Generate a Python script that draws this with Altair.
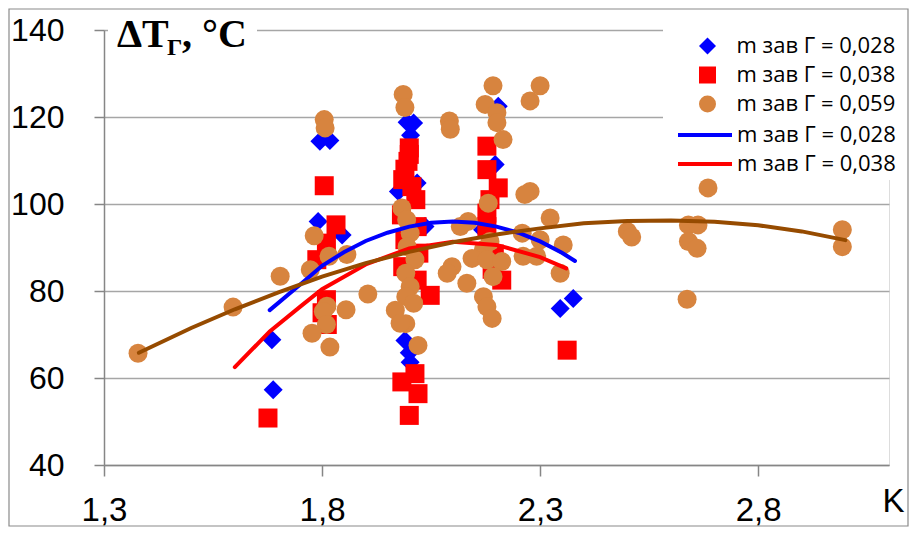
import altair as alt
import pandas as pd

L028 = "m зав Г = 0,028"
L038 = "m зав Г = 0,038"
L059 = "m зав Г = 0,059"

# scatter series (K, dT)
blue_x = [1.795, 1.818, 1.791, 1.846, 1.685, 1.688,
          1.995, 2.010, 2.003, 2.018, 1.975, 1.997, 2.036, 1.990, 2.000, 2.002,
          2.204, 2.197, 2.168, 2.346, 2.376]
blue_y = [114.4, 114.6, 96.0, 92.9, 68.8, 57.3,
          118.8, 118.6, 115.8, 104.8, 102.9, 104.8, 94.8, 68.6, 65.8, 63.6,
          122.5, 109.1, 94.1, 76.0, 78.3]

red_x = [1.805, 1.832, 1.810, 1.788, 1.810, 1.800, 1.812, 1.676,
         2.000, 2.000, 1.997, 1.990, 2.006, 1.985, 2.015, 1.982, 2.018, 1.990,
         2.022, 1.985, 2.018, 2.048, 1.983, 2.013, 2.020, 2.000,
         2.178, 2.178, 2.204, 2.185, 2.178, 2.178, 2.195, 2.190, 2.212, 2.362]
red_y = [104.2, 95.2, 91.0, 87.2, 78.0, 75.0, 72.3, 50.8,
         112.9, 111.4, 109.8, 108.0, 104.0, 105.6, 101.0, 97.5, 94.8, 91.8,
         88.7, 85.6, 82.5, 79.0, 59.1, 61.0, 56.4, 51.4,
         113.3, 107.9, 103.7, 101.0, 97.9, 94.8, 88.5, 85.0, 82.5, 66.4]

orange_x = [1.378, 1.596, 1.704, 1.773, 1.782, 1.805, 1.807, 1.816, 1.857, 1.905,
            1.811, 1.803, 1.855, 1.810, 1.777, 1.818,
            1.986, 1.990, 1.983, 1.994, 2.002, 1.995, 2.013, 1.992, 2.002, 1.992,
            2.010, 1.968, 1.992, 1.979, 2.020,
            2.092, 2.094, 2.098, 2.087, 2.132,
            2.192, 2.174, 2.201, 2.201, 2.215, 2.181, 2.135, 2.117, 2.170, 2.185,
            2.144, 2.178, 2.212, 2.192, 2.170, 2.178, 2.190,
            2.300, 2.277, 2.277, 2.265, 2.323, 2.259, 2.300, 2.353, 2.261, 2.292, 2.346,
            2.500, 2.510, 2.685, 2.640, 2.662, 2.640, 2.660, 2.637, 2.993, 2.993]
orange_y = [65.7, 76.3, 83.4, 84.9, 92.7, 119.4, 117.5, 88.0, 88.4, 79.3,
            76.5, 75.3, 75.7, 72.3, 70.3, 67.1,
            125.2, 122.2, 99.1, 96.4, 93.3, 90.2, 87.2, 84.1, 81.0, 78.7,
            77.2, 75.6, 72.5, 72.6, 67.5,
            119.1, 117.2, 85.6, 84.1, 81.8,
            127.2, 122.9, 121.0, 118.7, 114.8, 100.2, 96.0, 94.8, 89.5, 91.4,
            87.5, 87.2, 86.8, 83.3, 78.7, 76.4, 73.7,
            127.2, 123.7, 102.9, 102.2, 96.8, 93.3, 91.8, 90.6, 88.0, 88.0, 84.1,
            93.7, 92.4, 103.7, 95.2, 95.2, 91.4, 89.8, 78.1, 94.1, 90.2]

# trend curves
blue_cx = [1.68, 1.75, 1.80, 1.85, 1.90, 1.95, 2.00, 2.05, 2.10, 2.15, 2.20, 2.25, 2.30, 2.35, 2.38]
blue_cy = [75.6, 81.5, 85.8, 88.9, 91.5, 93.4, 94.8, 95.7, 96.0, 95.7, 94.8, 93.4, 91.4, 88.8, 86.9]

red_cx = [1.60, 1.68, 1.75, 1.80, 1.90, 2.00, 2.10, 2.20, 2.30, 2.36]
red_cy = [62.5, 70.7, 76.4, 80.4, 86.1, 89.8, 91.3, 90.6, 87.8, 85.2]

brown_cx = [1.38, 1.50, 1.60, 1.70, 1.80, 1.90, 2.00, 2.10, 2.20, 2.30, 2.40, 2.50, 2.60, 2.70, 2.80, 2.90, 3.00]
brown_cy = [65.8, 71.5, 75.8, 79.7, 83.3, 86.4, 89.0, 91.2, 93.0, 94.4, 95.6, 96.1, 96.2, 95.9, 95.1, 93.7, 91.7]

x_ticks = [1.3, 1.8, 2.3, 2.8]
y_ticks = [40, 60, 80, 100, 120, 140]

BLUE, RED, ORANGE, BROWN = "#0000FF", "#FF0000", "#D7843F", "#964B00"
TICKFONT = "Liberation Sans, Arial, sans-serif"
LEGFONT = "Open Sans, Noto Sans, sans-serif"

rows = []
for lab, xs, ys in [(L028, blue_x, blue_y), (L038, red_x, red_y), (L059, orange_x, orange_y)]:
    for a, b in zip(xs, ys):
        rows.append({"x": a, "y": b, "series": lab})
scatter_df = pd.DataFrame(rows)

crow = []
for lab, xs, ys in [(L028, blue_cx, blue_cy), (L038, red_cx, red_cy)]:
    for a, b in zip(xs, ys):
        crow.append({"x": a, "y": b, "curve": lab})
curve_df = pd.DataFrame(crow)
brown_df = pd.DataFrame({"x": brown_cx, "y": brown_cy})

xscale = alt.Scale(domain=[1.3, 3.1], nice=False, zero=False)
yscale = alt.Scale(domain=[40, 140], nice=False, zero=False)

xaxis = alt.Axis(values=x_ticks, grid=False, labelExpr="replace(format(datum.value, '.1f'), '.', ',')",
                 labelFont=TICKFONT, labelFontSize=33, labelColor="black", labelPadding=18,
                 tickSize=11, tickColor="#868686", tickWidth=1.5, domainColor="#868686", domainWidth=1.5,
                 title="K", titleFont=TICKFONT, titleFontSize=33, titleFontWeight="normal", titleColor="black",
                 titleX=789, titleY=36, titleAlign="center", titleBaseline="middle", labelFlush=False)
yaxis = alt.Axis(values=y_ticks, grid=True, gridColor="#A6A6A6", gridWidth=1.5,
                 labelFont=TICKFONT, labelFontSize=32, labelColor="black", labelPadding=30,
                 tickSize=10, tickColor="#868686", tickWidth=1.5, domainColor="#868686", domainWidth=1.5,
                 title=None)

blank = alt.Data(values=[{}])

legend_bg = alt.Chart(blank).mark_rect(fill="white", stroke=None).encode(
    x=alt.value(559), x2=alt.value(808), y=alt.value(-2), y2=alt.value(150))
title_bg = alt.Chart(blank).mark_rect(fill="white", stroke=None).encode(
    x=alt.value(4), x2=alt.value(153), y=alt.value(-8), y2=alt.value(30))

pt_legend = alt.Legend(title=None, orient="none", legendX=592.5, legendY=5, padding=0,
                       symbolSize=289, symbolStrokeWidth=0, labelFont=LEGFONT,
                       labelFontSize=22, labelColor="black", labelOffset=18, rowPadding=7)

points = alt.Chart(scatter_df).mark_point(filled=True, opacity=1, strokeWidth=0, size=361).encode(
    x=alt.X("x:Q", scale=xscale, axis=xaxis),
    y=alt.Y("y:Q", scale=yscale, axis=yaxis),
    color=alt.Color("series:N", scale=alt.Scale(domain=[L028, L038, L059], range=[BLUE, RED, ORANGE]),
                    legend=pt_legend),
    shape=alt.Shape("series:N", scale=alt.Scale(domain=[L028, L038, L059], range=["diamond", "square", "circle"]),
                    legend=pt_legend),
)

lines = alt.Chart(curve_df).mark_line(strokeWidth=4, strokeCap="round").encode(
    x=alt.X("x:Q", scale=xscale),
    y=alt.Y("y:Q", scale=yscale),
    color=alt.Color("curve:N", scale=alt.Scale(domain=[L028, L038], range=[BLUE, RED]),
                    legend=alt.Legend(title=None, orient="none", legendX=585.5, legendY=89.5, padding=0,
                                      symbolType="M-2,0H2", symbolSize=729, symbolStrokeWidth=4,
                                      labelFont=LEGFONT, labelFontSize=22, labelColor="black",
                                      labelOffset=16.5, rowPadding=2)),
)

brown = alt.Chart(brown_df).mark_line(strokeWidth=4, strokeCap="round", color=BROWN).encode(
    x=alt.X("x:Q", scale=xscale), y=alt.Y("y:Q", scale=yscale))

TFONT = "Liberation Serif, Times New Roman, serif"
t1 = alt.Chart(blank).mark_text(text="ΔT", font=TFONT, fontSize=40, fontWeight="bold", align="left",
                                baseline="alphabetic", color="black").encode(x=alt.value(13), y=alt.value(17))
t2 = alt.Chart(blank).mark_text(text="Г", font=TFONT, fontSize=24, fontWeight="bold", align="left",
                                baseline="alphabetic", color="black").encode(x=alt.value(63), y=alt.value(25))
t3 = alt.Chart(blank).mark_text(text=",  °C", font=TFONT, fontSize=40, fontWeight="bold", align="left",
                                baseline="alphabetic", color="black").encode(x=alt.value(78), y=alt.value(17))

frame = alt.Chart(blank).mark_rect(fillOpacity=0, stroke="#8a8a8a", strokeWidth=1.2).encode(
    x=alt.value(-95), x2=alt.value(804), y=alt.value(-21), y2=alt.value(496))

chart = alt.layer(legend_bg, title_bg, points, lines, brown, t1, t2, t3, frame).resolve_scale(
    color="independent", shape="independent").properties(
    width=785, height=435, autosize="none",
    padding={"left": 96, "top": 22, "right": 20, "bottom": 62},
).configure_view(stroke=None).configure(background="white")

chart.save("out.html", embed_options={"renderer": "svg", "actions": False})
